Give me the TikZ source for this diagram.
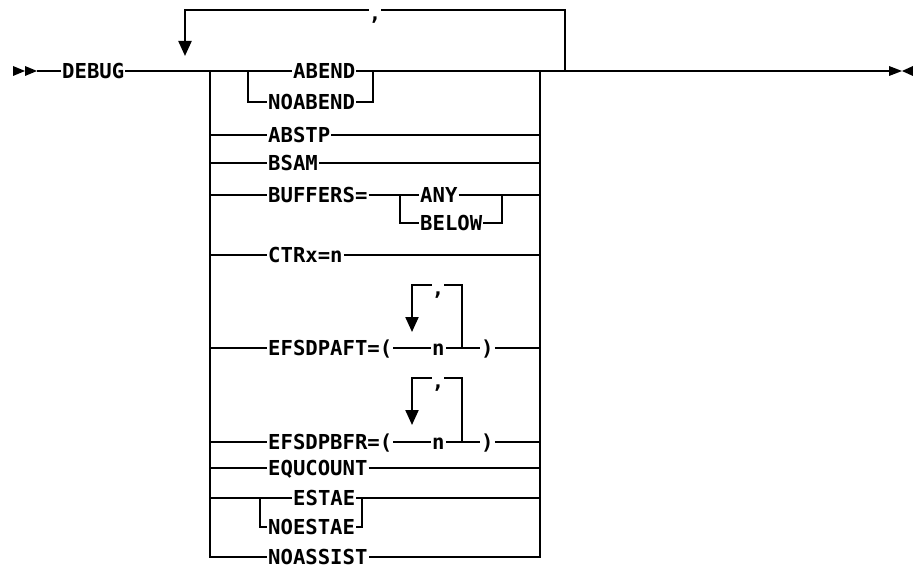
\documentclass[tikz,border=0pt]{standalone}
\usepackage{fontspec}
\newfontfamily\dgfont{DejaVu Sans Mono}
\usetikzlibrary{arrows.meta}
\tikzset{
  lbl/.style={font={\dgfont\bfseries\fontsize{20.6}{22}\selectfont}, inner xsep=1pt, inner ysep=0pt,
    text height=15pt, text depth=0pt, anchor=west},
  cma/.style={font={\dgfont\bfseries\fontsize{20.6}{22}\selectfont}, inner sep=0pt, fill=white,
    text height=13pt, text depth=3pt, anchor=north},
  ln/.style={line width=2.2pt},
  dnarrow/.style={ln, -{Triangle[length=15pt,width=13pt]}},
  tip/.style={fill=black}
}
\begin{document}
\begin{tikzpicture}[x=1pt,y=-1pt]
\useasboundingbox (0,0) rectangle (913,567);
% start and end markers
\fill[tip] (13,66) -- (25,71) -- (13,76) -- cycle;
\fill[tip] (25,66) -- (37,71) -- (25,76) -- cycle;
\fill[tip] (889,66) -- (902,71) -- (889,76) -- cycle;
\fill[tip] (913,66) -- (902,71) -- (913,76) -- cycle;
\coordinate (st) at (37,71);
\coordinate (en) at (889,71);
% junctions
\coordinate (lp) at (185,71);
\coordinate (jL) at (210,71);
\coordinate (jR) at (540,71);
\coordinate (rp) at (565,71);
\coordinate (lpT) at (185,10);
\coordinate (lpA) at (185,56);
% labels
\node[lbl] (debug) at (61,71) {DEBUG};
\node[lbl] (abend) at (292,71) {ABEND};
\node[lbl] (noabend) at (267,102) {NOABEND};
\node[lbl] (abstp) at (267,135) {ABSTP};
\node[lbl] (bsam) at (267,163) {BSAM};
\node[lbl] (buffers) at (267,195) {BUFFERS=};
\node[lbl] (any) at (419,195) {ANY};
\node[lbl] (below) at (419,223) {BELOW};
\node[lbl] (ctrx) at (267,255) {CTRx=n};
\node[lbl] (aft) at (267,348) {EFSDPAFT=(};
\node[lbl] (aftn) at (431,348) {n};
\node[lbl] (aftp) at (480,348) {)};
\node[lbl] (bfr) at (267,442) {EFSDPBFR=(};
\node[lbl] (bfrn) at (431,442) {n};
\node[lbl] (bfrp) at (480,442) {)};
\node[lbl] (equ) at (267,468) {EQUCOUNT};
\node[lbl] (estae) at (292,498) {ESTAE};
\node[lbl] (noestae) at (267,527) {NOESTAE};
\node[lbl] (noassist) at (267,557) {NOASSIST};
% main line
\draw[ln] (st) -- (debug.west);
\draw[ln] (debug.east) -- (abend.west);
\draw[ln] (abend.east) -- (en);
% repeat loop
\draw[ln] (rp) |- (lpT) -- (185,40);
\draw[dnarrow] (185,38) -- (lpA);
\node[cma] (c1) at (375,7) {,};
% vertical bars
\draw[ln] (jL) -- (210,557) -- (noassist.west);
\draw[ln] (jR) -- (540,557) -- (noassist.east);
% ABEND / NOABEND
\draw[ln] (248,71) |- (noabend.west);
\draw[ln] (noabend.east) -| (373,71);
% simple rows
\draw[ln] (210,135) -- (abstp.west);
\draw[ln] (abstp.east) -- (540,135);
\draw[ln] (210,163) -- (bsam.west);
\draw[ln] (bsam.east) -- (540,163);
% BUFFERS
\draw[ln] (210,195) -- (buffers.west);
\draw[ln] (buffers.east) -- (any.west);
\draw[ln] (any.east) -- (540,195);
\draw[ln] (400,195) |- (below.west);
\draw[ln] (below.east) -| (502,195);
% CTRx
\draw[ln] (210,255) -- (ctrx.west);
\draw[ln] (ctrx.east) -- (540,255);
% EFSDPAFT
\draw[ln] (210,348) -- (aft.west);
\draw[ln] (aft.east) -- (aftn.west);
\draw[ln] (aftn.east) -- (aftp.west);
\draw[ln] (aftp.east) -- (540,348);
\draw[ln] (462,348) |- (412,285) -- (412,305);
\draw[dnarrow] (412,303) -- (412,332);
\node[cma] (c2) at (438,282) {,};
% EFSDPBFR
\draw[ln] (210,442) -- (bfr.west);
\draw[ln] (bfr.east) -- (bfrn.west);
\draw[ln] (bfrn.east) -- (bfrp.west);
\draw[ln] (bfrp.east) -- (540,442);
\draw[ln] (462,442) |- (412,378) -- (412,398);
\draw[dnarrow] (412,396) -- (412,425);
\node[cma] (c3) at (438,375) {,};
% EQUCOUNT
\draw[ln] (210,468) -- (equ.west);
\draw[ln] (equ.east) -- (540,468);
% ESTAE / NOESTAE
\draw[ln] (210,498) -- (estae.west);
\draw[ln] (estae.east) -- (540,498);
\draw[ln] (260,498) |- (noestae.west);
\draw[ln] (noestae.east) -| (362,498);
\end{tikzpicture}
\end{document}
